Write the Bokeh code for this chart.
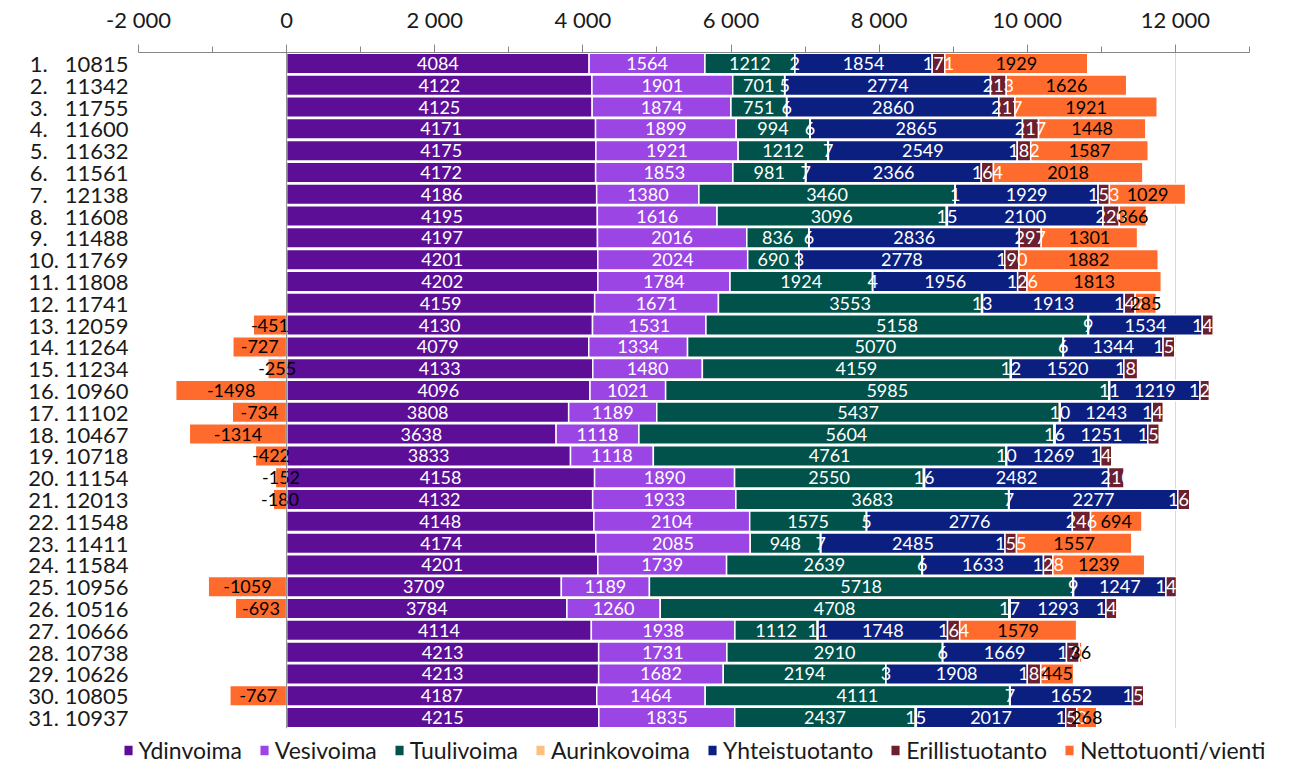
from bokeh.plotting import figure
from bokeh.models import (ColumnDataSource, FactorRange, Range1d, FixedTicker,
                          Span, Legend, LegendItem)
from bokeh.embed import file_html
from bokeh.resources import INLINE
from bokeh.core.properties import value

days = list(range(1, 32))
totals = [10815, 11342, 11755, 11600, 11632, 11561, 12138, 11608, 11488, 11769,
          11808, 11741, 12059, 11264, 11234, 10960, 11102, 10467, 10718, 11154,
          12013, 11548, 11411, 11584, 10956, 10516, 10666, 10738, 10626, 10805, 10937]
ydinvoima = [4084, 4122, 4125, 4171, 4175, 4172, 4186, 4195, 4197, 4201, 4202, 4159,
             4130, 4079, 4133, 4096, 3808, 3638, 3833, 4158, 4132, 4148, 4174, 4201,
             3709, 3784, 4114, 4213, 4213, 4187, 4215]
vesivoima = [1564, 1901, 1874, 1899, 1921, 1853, 1380, 1616, 2016, 2024, 1784, 1671,
             1531, 1334, 1480, 1021, 1189, 1118, 1118, 1890, 1933, 2104, 2085, 1739,
             1189, 1260, 1938, 1731, 1682, 1464, 1835]
tuulivoima = [1212, 701, 751, 994, 1212, 981, 3460, 3096, 836, 690, 1924, 3553,
              5158, 5070, 4159, 5985, 5437, 5604, 4761, 2550, 3683, 1575, 948, 2639,
              5718, 4708, 1112, 2910, 2194, 4111, 2437]
aurinkovoima = [2, 5, 6, 6, 7, 7, 1, 15, 6, 3, 4, 13, 9, 6, 12, 11, 10, 16, 10, 16,
                7, 5, 7, 6, 9, 17, 11, 6, 3, 7, 15]
yhteistuotanto = [1854, 2774, 2860, 2865, 2549, 2366, 1929, 2100, 2836, 2778, 1956, 1913,
                  1534, 1344, 1520, 1219, 1243, 1251, 1269, 2482, 2277, 2776, 2485, 1633,
                  1247, 1293, 1748, 1669, 1908, 1652, 2017]
erillistuotanto = [171, 213, 217, 217, 182, 164, 153, 220, 297, 190, 126, 147,
                   148, 158, 185, 126, 149, 154, 149, 210, 161, 246, 155, 128,
                   143, 147, 164, 173, 181, 151, 150]
nettotuonti = [1929, 1626, 1921, 1448, 1587, 2018, 1029, 366, 1301, 1882, 1813, 285,
               -451, -727, -255, -1498, -734, -1314, -422, -152, -180, 694, 1557, 1239,
               -1059, -693, 1579, 36, 445, -767, 268]

series_names = ["Ydinvoima", "Vesivoima", "Tuulivoima", "Aurinkovoima",
                "Yhteistuotanto", "Erillistuotanto", "Nettotuonti/vienti"]
series_values = [ydinvoima, vesivoima, tuulivoima, aurinkovoima,
                 yhteistuotanto, erillistuotanto, nettotuonti]
colors = ["#5c0f96", "#9b45e4", "#00524a", "#ffbf80", "#0b1f80", "#6c1f2e", "#ff6b2c"]
label_colors = ["white", "white", "white", "white", "white", "white", "black"]

tick_values = [-2000, 0, 2000, 4000, 6000, 8000, 10000, 12000]
tick_labels = ["-2 000", "0", "2 000", "4 000", "6 000", "8 000", "10 000", "12 000"]
minor_values = [-1000, 1000, 3000, 5000, 7000, 9000, 11000, 13000]

NB = "\u00a0"
cats = [f"{d}.{' ' if d >= 10 else NB * 3}{t}" for d, t in zip(days, totals)]

FONT = "Lato"

p = figure(frame_width=1111, frame_height=676, output_backend="svg", toolbar_location=None,
           x_range=Range1d(-2000, 13000),
           y_range=FactorRange(factors=list(reversed(cats)), range_padding=0),
           x_axis_location="above",
           min_border_left=138, min_border_right=45, min_border_top=52,
           min_border_bottom=0)
p.outline_line_color = None
p.background_fill_color = "white"

# stacked segments
cum = [0] * len(days)
renderers = []
for name, vals, col, lcol in zip(series_names, series_values, colors, label_colors):
    lefts, rights = [], []
    for i, v in enumerate(vals):
        if v >= 0:
            lefts.append(cum[i]); rights.append(cum[i] + v); cum[i] += v
        else:
            lefts.append(v); rights.append(0)
    src = ColumnDataSource(dict(cat=cats, left=lefts, right=rights,
                                mid=[(a + b) / 2 for a, b in zip(lefts, rights)],
                                lab=[str(v) for v in vals]))
    r = p.hbar(y="cat", left="left", right="right", height=0.94, source=src,
               fill_color=col, line_color="white", line_width=1.5)
    renderers.append((name, r, src, lcol))

for name, r, src, lcol in renderers:
    p.text(x="mid", y="cat", text="lab", source=src, text_align="center",
           text_baseline="middle", text_font=value(FONT), text_font_size="18px",
           text_color=lcol)

# axes
xa = p.xaxis[0]
xa.ticker = FixedTicker(ticks=tick_values, minor_ticks=minor_values)
xa.major_label_overrides = {v: s for v, s in zip(tick_values, tick_labels)}
xa.axis_line_color = "#868686"
xa.major_tick_line_color = "#868686"
xa.minor_tick_line_color = "#868686"
xa.major_tick_in = 0
xa.major_tick_out = 8
xa.minor_tick_in = 0
xa.minor_tick_out = 6
xa.major_label_standoff = 12
xa.major_label_text_font = FONT
xa.major_label_text_font_size = "22px"
xa.major_label_text_color = "#1a1a1a"

ya = p.yaxis[0]
ya.axis_line_color = None
ya.major_tick_line_color = None
ya.minor_tick_line_color = None
ya.major_tick_out = 0
ya.major_tick_in = 0
ya.major_label_standoff = 10
ya.major_label_text_font = FONT
ya.major_label_text_font_size = "22px"
ya.major_label_text_color = "#1a1a1a"

p.xgrid.ticker = FixedTicker(ticks=[-2000, 12000])
p.xgrid.grid_line_color = "#d9d9d9"
p.ygrid.grid_line_color = None

p.add_layout(Span(location=0, dimension="height", line_color="#868686", line_width=1))

legend = Legend(items=[LegendItem(label=n, renderers=[r]) for n, r, _, _ in renderers],
                orientation="horizontal", location="top_center",
                label_text_font=FONT, label_text_font_size="23px",
                label_text_color="#1a1a1a",
                glyph_width=12, glyph_height=14, label_standoff=5, spacing=16,
                padding=0, margin=8, border_line_alpha=0, background_fill_alpha=0)
p.add_layout(legend, "below")

open("out.html", "w").write(file_html(p, INLINE))
